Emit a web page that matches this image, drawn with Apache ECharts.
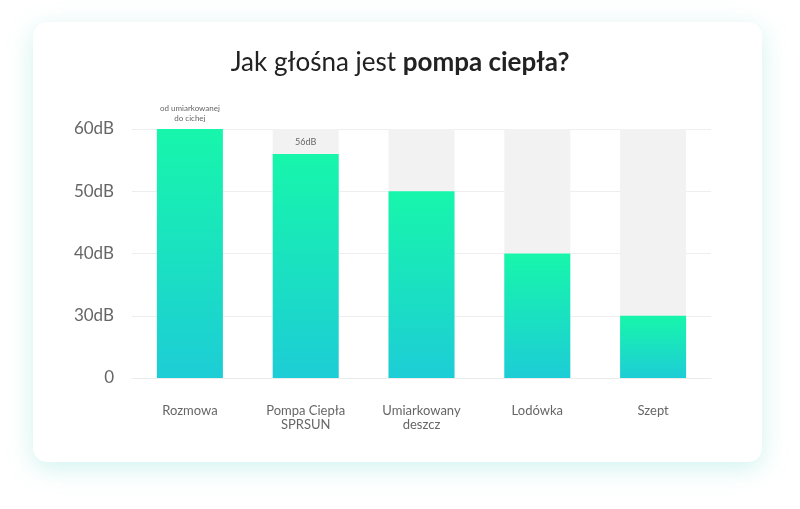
<!DOCTYPE html>
<html>
<head>
<meta charset="utf-8">
<script src="https://cdn.jsdelivr.net/npm/echarts@6/dist/echarts.min.js"></script>
<style>
  html, body { margin: 0; padding: 0; background: #fff; }
  #card {
    position: absolute; left: 33px; top: 22px; width: 729px; height: 440px;
    background: #fff; border-radius: 14px;
    box-shadow: 0 6px 24px rgba(120, 220, 210, 0.35);
  }
  #chart { position: absolute; left: 0; top: 0; width: 800px; height: 509px; }
</style>
</head>
<body>
<div id="card"></div>
<div id="chart"></div>
<script>
const categories = ['Rozmowa', 'Pompa Ciepła\nSPRSUN', 'Umiarkowany\ndeszcz', 'Lodówka', 'Szept'];
const levels = [60, 56, 50, 40, 30];
const barNotes = ['od umiarkowanej\ndo cichej', '56dB', '', '', ''];

const chart = echarts.init(document.getElementById('chart'));

const gradient = new echarts.graphic.LinearGradient(0, 0, 0, 1, [
  { offset: 0, color: '#17f6ab' },
  { offset: 1, color: '#1dcdd6' }
]);

chart.setOption({
  textStyle: { fontFamily: 'Lato' },
  title: {
    left: 'center',
    top: 45,
    text: 'Jak głośna jest {b|pompa ciepła?}',
    textStyle: {
      fontFamily: 'Lato', fontSize: 26, fontWeight: 'normal', color: '#222',
      rich: { b: { fontFamily: 'Lato', fontSize: 26, fontWeight: 'bold', color: '#222' } }
    }
  },
  grid: { left: 132, right: 89, top: 129, bottom: 131 },
  xAxis: {
    type: 'category',
    data: categories,
    axisLine: { show: true, lineStyle: { color: '#ececec' } },
    axisTick: { show: false },
    axisLabel: { color: '#666', fontSize: 13, margin: 26, lineHeight: 14 }
  },
  yAxis: {
    type: 'value',
    min: 20,
    max: 60,
    interval: 10,
    axisLabel: {
      color: '#666', fontSize: 17, margin: 18,
      formatter: v => (v === 20 ? '0' : v + 'dB')
    },
    splitLine: { lineStyle: { color: '#eeeeee' } },
    axisLine: { show: false },
    axisTick: { show: false }
  },
  series: [{
    type: 'bar',
    barWidth: 66,
    showBackground: true,
    backgroundStyle: { color: '#f2f2f2' },
    itemStyle: { color: gradient },
    data: levels.map((v, i) => ({
      value: v,
      label: {
        show: barNotes[i] !== '',
        position: 'top',
        distance: i === 0 ? 6 : 7,
        formatter: barNotes[i],
        color: '#666',
        fontSize: i === 0 ? 8 : 9,
        lineHeight: 10
      }
    }))
  }]
});
</script>
</body>
</html>
